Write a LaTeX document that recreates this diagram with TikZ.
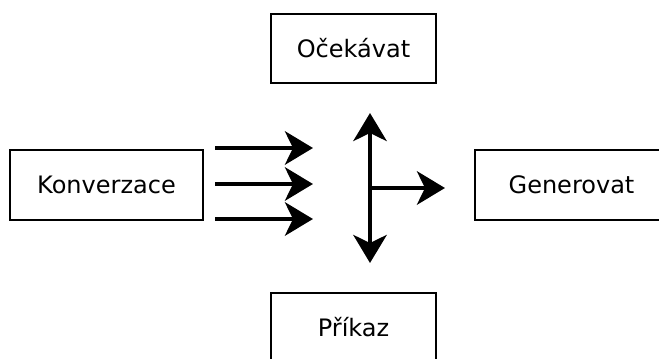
\documentclass[tikz,border=0pt]{standalone}
\usepackage{fontspec}
\setmainfont{DejaVu Sans}
\usetikzlibrary{arrows.meta}

\tikzset{
  box/.style={draw, line width=1.1pt, minimum width=165pt*0.75, minimum height=69pt*0.75,
    font=\fontsize{18}{21}\selectfont, inner sep=0pt},
  widebox/.style={box, minimum width=193pt*0.75, minimum height=70pt*0.75},
  flow/.style={line width=3.3pt, -{Stealth[length=21pt, width=25pt, inset=6pt]}}
}

\begin{document}
\begin{tikzpicture}[x=0.75pt, y=-0.75pt]
\useasboundingbox (0,0) rectangle (659,359);
\clip (0,0) rectangle (659,359);

% Boxes
\node[box] (expect) at (353.5,48.5) {Očekávat};
\node[widebox] (convert) at (106.5,185) {Konverzace};
\node[widebox] (generate) at (571.5,185) {Generovat};
\node[box] (command) at (353.5,327.5) {Příkaz};

% Arrow ends
\coordinate (in1) at (215,148);
\coordinate (out1) at (313,148);
\coordinate (in2) at (215,184);
\coordinate (out2) at (313,184);
\coordinate (in3) at (215,219);
\coordinate (out3) at (313,219);
\coordinate (up) at (370,113);
\coordinate (down) at (370,263);
\coordinate (fork) at (370,188);
\coordinate (right) at (445,188);

% Incoming arrows
\draw[flow] (in1) -- (out1);
\draw[flow] (in2) -- (out2);
\draw[flow] (in3) -- (out3);

% Cross of arrows
\draw[flow, {Stealth[length=21pt, width=25pt, inset=6pt]}-{Stealth[length=21pt, width=25pt, inset=6pt]}] (up) -- (down);
\draw[flow] (fork) -- (right);

\end{tikzpicture}
\end{document}
